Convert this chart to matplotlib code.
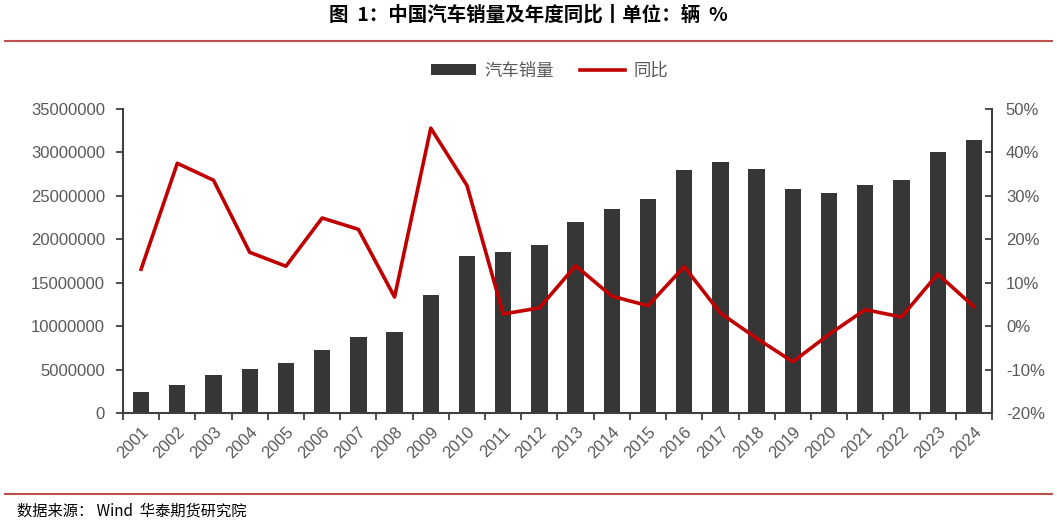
import numpy as np
import matplotlib
matplotlib.use('Agg')
import matplotlib.pyplot as plt
from matplotlib.lines import Line2D
from matplotlib.patches import Patch
from matplotlib.ticker import FuncFormatter, MultipleLocator

plt.rcParams['font.family'] = ['Liberation Sans', 'Noto Sans CJK SC', 'DejaVu Sans']

years = [str(y) for y in range(2001, 2025)]
# sales, vehicles
sales = [2370000, 3250000, 4390000, 5070000, 5760000, 7220000, 8790000, 9380000,
         13640000, 18060000, 18510000, 19310000, 21980000, 23490000, 24600000,
         28030000, 28880000, 28080000, 25770000, 25310000, 26270000, 26860000,
         30090000, 31440000]
# yoy, percent
yoy = [13.1, 37.5, 33.6, 17.0, 13.8, 24.9, 22.3, 6.7, 45.6, 32.4, 2.8, 4.2,
       13.9, 6.9, 4.7, 13.7, 3.0, -2.8, -8.2, -1.9, 3.8, 2.1, 12.0, 4.5]

bar_color = '#363636'
line_color = '#C00000'
axis_color = '#404040'
label_color = '#595959'
rule_color = '#C0504D'

fig = plt.figure(figsize=(10.57, 5.25), dpi=100)
ax = fig.add_axes([123 / 1057, 1 - 413 / 525, (992 - 123) / 1057, (413 - 109) / 525])
ax2 = ax.twinx()

x = np.arange(len(years))
ax.bar(x, sales, width=0.45, color=bar_color, zorder=2)
ax2.plot(x, yoy, color=line_color, lw=2.6, zorder=3)

ax.set_xlim(-0.5, len(years) - 0.5)
ax.set_ylim(0, 35000000)
ax.yaxis.set_major_locator(MultipleLocator(5000000))
ax.yaxis.set_major_formatter(FuncFormatter(lambda v, p: '%d' % v))
ax2.set_ylim(-20, 50)
ax2.yaxis.set_major_locator(MultipleLocator(10))
ax2.yaxis.set_major_formatter(FuncFormatter(lambda v, p: '%d%%' % v))

ax.set_xticks(x)
ax.set_xticklabels(years, rotation=45, ha='right', rotation_mode='anchor')
ax.set_xticks(np.arange(-0.5, len(years), 1), minor=True)
ax.tick_params(axis='x', which='major', length=0, pad=8, labelsize=12, labelcolor=label_color)
ax.tick_params(axis='x', which='minor', length=5, width=1.3, color=axis_color, direction='out')
ax.tick_params(axis='y', length=5, width=1.3, color=axis_color, labelsize=12,
               labelcolor=label_color, pad=8)
ax2.tick_params(axis='y', length=5, width=1.3, color=axis_color, labelsize=12,
                labelcolor=label_color, direction='in', pad=10)

for a in (ax, ax2):
    a.spines['top'].set_visible(False)
ax.spines['right'].set_visible(False)
ax2.spines['left'].set_visible(False)
ax2.spines['bottom'].set_visible(False)
for s in ('left', 'bottom'):
    ax.spines[s].set_color(axis_color)
    ax.spines[s].set_linewidth(1.5)
ax2.spines['right'].set_color(axis_color)
ax2.spines['right'].set_linewidth(1.5)

handles = [Patch(facecolor=bar_color, edgecolor='none'),
           Line2D([0], [0], color=line_color, lw=2.6)]
fig.legend(handles, ['汽车销量', '同比'], loc='center', bbox_to_anchor=(0.52, 1 - 71 / 525),
           ncol=2, frameon=False, handlelength=2.6, handleheight=0.6,
           columnspacing=1.5, handletextpad=0.5,
           prop={'family': ['Noto Sans CJK SC', 'DejaVu Sans'], 'size': 12.5})
for t in fig.legends[0].get_texts():
    t.set_color(label_color)

fig.text(528 / 1057, 1 - 15 / 525, '图  1：中国汽车销量及年度同比丨单位：辆  %', ha='center', va='center',
         fontsize=14, fontweight='bold', family=['Noto Sans CJK SC', 'DejaVu Sans'])
fig.add_artist(Line2D([5 / 1057, 1052 / 1057], [1 - 41 / 525] * 2, color=rule_color, lw=1.5))
fig.add_artist(Line2D([5 / 1057, 1052 / 1057], [1 - 494 / 525] * 2, color=rule_color, lw=1.5))
fig.text(17 / 1057, 1 - 511 / 525, '数据来源： Wind  华泰期货研究院', ha='left', va='center',
         fontsize=11, family=['Noto Sans CJK SC', 'DejaVu Sans'])

fig.savefig('out.png', dpi=100)
